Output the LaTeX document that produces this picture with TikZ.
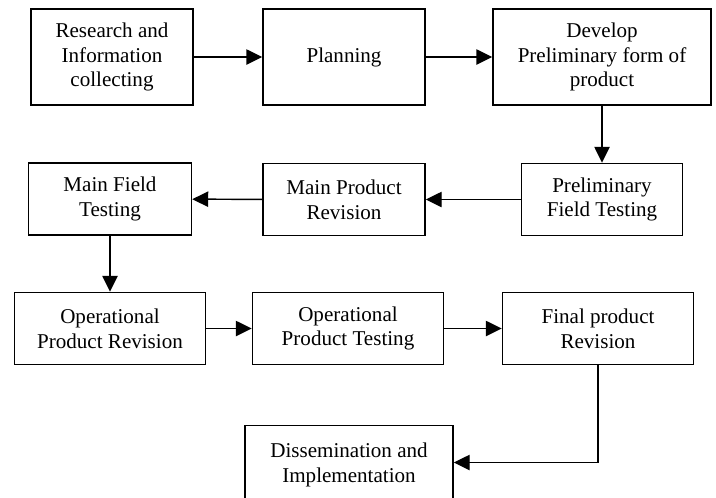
\documentclass[tikz,border=0pt]{standalone}
\usepackage{fontspec}
\setmainfont{Liberation Serif}
\usetikzlibrary{arrows.meta,positioning}

\begin{document}
\begin{tikzpicture}[
  x=0.75pt, y=-0.75pt,
  box/.style={draw, line width=1.1pt, align=center, inner sep=2pt, minimum height=72pt*0.75, font=\fontsize{15.8}{18.6}\selectfont},
  tall/.style={box, minimum height=96pt*0.75},
  conn/.style={->, line width=1.1pt},
  >={Triangle[length=12pt, width=11.5pt]}
]
\useasboundingbox (0,0) rectangle (716,497);
\clip (0,0) rectangle (716,497);

\node[tall, minimum width=162*0.75pt] (research) at (112,57) {Research and\\Information\\collecting};
\node[tall, minimum width=162*0.75pt] (planning) at (344,57) {Planning};
\node[tall, minimum width=218*0.75pt] (develop) at (602,57) {Develop\\Preliminary form of\\product};

\node[box, minimum width=161*0.75pt] (prelim) at (602,199.5) {Preliminary\\Field Testing};
\node[box, minimum width=162*0.75pt] (mainrev) at (344,199.5) {Main Product\\Revision};
\node[box, minimum width=163*0.75pt] (mainfield) at (110,199) {Main Field\\Testing};

\node[box, minimum width=191*0.75pt] (opsrev) at (110,328.5) {Operational\\Product Revision};
\node[box, minimum width=191*0.75pt] (opstest) at (348,328.5) {Operational\\Product Testing};
\node[box, minimum width=191*0.75pt] (final) at (598,328.5) {Final product\\Revision};

% box runs past the lower edge of the page
\node[box, minimum width=208*0.75pt, minimum height=100pt*0.75, text depth=26pt*0.75] (dissem) at (349,475.5) {Dissemination and\\Implementation};

\draw[conn] (research) -- (planning);
\draw[conn] (planning) -- (develop);
\draw[conn] (develop) -- (prelim);
\draw[conn] (prelim) -- (mainrev);
\draw[conn] (mainrev) -- (mainfield);
\draw[conn] (mainfield) -- (opsrev);
\draw[conn] (opsrev) -- (opstest);
\draw[conn] (opstest) -- (final);
\draw[conn] (final.south) |- ([yshift=13*0.75pt]dissem.east);
\end{tikzpicture}
\end{document}
